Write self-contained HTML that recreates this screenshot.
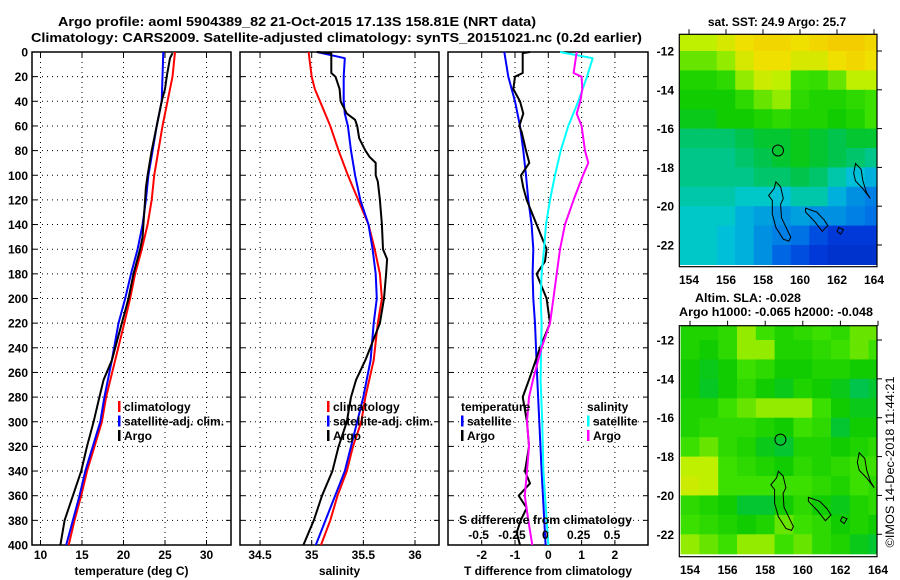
<!DOCTYPE html>
<html><head><meta charset="utf-8"><style>
html,body{margin:0;padding:0;background:#fff;}
svg{display:block;font-family:"Liberation Sans",sans-serif;font-weight:bold;}
</style></head><body>
<svg id="c" width="900" height="580" viewBox="0 0 900 580"></svg>
<script>
// ---------- data ----------
const tDepth=[0,20,40,60,80,100,120,140,160,180,200,220,250,280,300,320,340,360,380,400];
const tClim=[26.2,25.9,25.3,24.7,24.2,23.7,23.4,22.9,22.2,21.4,20.8,20.1,19.0,17.9,17.4,16.5,15.6,14.9,14.1,13.4];
const tSat=[24.8,24.7,24.6,24.0,23.5,23.0,22.7,22.3,21.7,20.9,20.2,19.4,18.6,17.7,17.2,16.3,15.4,14.7,13.9,13.1];
const tArgoDepth=[1,5,20,30,40,60,80,100,110,120,140,150,160,180,200,220,250,266,280,300,320,340,360,380,400];
const tArgo=[25.9,25.6,25.2,25.0,24.6,24.0,23.4,22.9,22.7,22.6,22.4,22.3,22.0,21.2,20.6,19.8,18.6,17.6,17.1,16.4,15.6,14.9,13.9,12.9,12.4];
const sDepth=[0,20,30,40,60,80,100,120,140,160,180,200,220,250,280,300,320,340,360,380,400];
const sClim=[34.97,35.0,35.03,35.08,35.18,35.26,35.35,35.45,35.55,35.61,35.66,35.68,35.64,35.60,35.52,35.48,35.40,35.34,35.25,35.18,35.09];
const sSatDepth=[0,5,20,40,50,60,80,100,120,140,160,180,200,220,250,280,300,340,400];
const sSat=[35.05,35.32,35.31,35.31,35.32,35.35,35.38,35.42,35.47,35.55,35.59,35.62,35.63,35.60,35.57,35.50,35.44,35.32,35.04];
const sArgoDepth=[0,1,17,20,30,40,50,55,60,70,80,85,90,100,105,120,140,160,168,180,200,220,250,266,280,300,320,340,360,380,400];
const sArgo=[35.05,35.19,35.19,35.23,35.27,35.28,35.34,35.42,35.44,35.46,35.52,35.56,35.62,35.62,35.64,35.66,35.68,35.69,35.73,35.72,35.70,35.66,35.52,35.43,35.38,35.34,35.26,35.20,35.10,35.02,34.92];
const dTSatDepth=[0,20,40,60,80,100,120,140,160,180,200,220,266,300,340,400];
const dTSat=[-1.32,-1.2,-1.0,-0.85,-0.75,-0.67,-0.6,-0.5,-0.45,-0.47,-0.45,-0.4,-0.33,-0.27,-0.2,-0.08];
const dTArgoDepth=[0,1,17,20,30,40,50,60,65,80,90,100,110,120,140,160,170,180,190,200,220,240,266,280,300,320,340,350,360,370,380,390,400];
const dTArgo=[-0.55,-0.77,-0.77,-1.0,-1.05,-0.85,-0.75,-0.87,-0.8,-0.67,-0.57,-0.82,-0.75,-0.65,-0.35,-0.05,-0.1,-0.35,-0.2,-0.05,0.05,-0.25,-0.58,-0.77,-0.64,-0.58,-0.7,-0.55,-0.89,-0.65,-0.83,-0.95,-0.85];
const dSSatDepth=[0,5,20,40,60,80,100,120,140,160,180,200,220,266,300,340,400];
const dSSat=[0.088,0.333,0.29,0.225,0.15,0.093,0.05,0.013,-0.017,-0.032,-0.05,-0.057,-0.05,-0.058,-0.046,-0.037,0.0];
const dSArgoDepth=[0,17,20,30,40,50,60,80,90,100,120,140,160,180,200,220,240,266,280,300,320,340,360,380,400];
const dSArgo=[0.213,0.19,0.25,0.255,0.24,0.213,0.25,0.275,0.3,0.26,0.19,0.125,0.088,0.063,0.038,0.013,-0.05,-0.115,-0.145,-0.16,-0.145,-0.16,-0.176,-0.15,-0.12];
const depthTicks=[0,20,40,60,80,100,120,140,160,180,200,220,240,260,280,300,320,340,360,380,400];
const tTicks=[10,15,20,25,30];
const sTicks=[34.5,35,35.5,36];
const dTTicks=[-2,-1,0,1,2];
const dSTicks=[-0.5,-0.25,0,0.25,0.5];
const dSTickLabels=["-0.5","-0.25","0","0.25","0.5"];
const lonTicks=[154,156,158,160,162,164];
const latTicks=[-12,-14,-16,-18,-20,-22];
const sstGrid=[
[.62,.62,.66,.7,.72,.72,.7,.72,.74,.74,.72],
[.58,.58,.6,.66,.7,.7,.66,.66,.7,.72,.7],
[.52,.52,.54,.6,.64,.62,.56,.55,.58,.62,.62],
[.5,.5,.5,.54,.58,.6,.54,.52,.52,.54,.56],
[.48,.48,.5,.5,.52,.54,.52,.52,.5,.52,.56],
[.42,.42,.42,.44,.46,.46,.48,.46,.44,.46,.46],
[.4,.4,.4,.42,.44,.46,.48,.46,.44,.42,.4],
[.4,.4,.4,.4,.42,.42,.44,.42,.38,.34,.32],
[.38,.38,.38,.36,.36,.34,.38,.38,.32,.28,.26],
[.36,.36,.36,.32,.3,.28,.3,.28,.28,.26,.24],
[.36,.36,.34,.32,.28,.26,.24,.18,.14,.14,.14],
[.36,.36,.34,.32,.28,.22,.18,.14,.12,.12,.12]];
const slaGrid=[
[.52,.52,.54,.6,.56,.52,.54,.56,.54,.58,.58],
[.52,.5,.54,.6,.6,.52,.52,.54,.56,.58,.56],
[.5,.48,.5,.56,.54,.5,.5,.52,.52,.5,.5],
[.5,.47,.5,.54,.5,.48,.52,.5,.48,.44,.46],
[.52,.52,.56,.58,.6,.6,.6,.56,.5,.48,.48],
[.52,.54,.54,.54,.52,.5,.56,.54,.46,.5,.5],
[.56,.58,.54,.52,.48,.46,.52,.52,.5,.52,.54],
[.62,.62,.56,.54,.52,.5,.54,.52,.54,.56,.56],
[.64,.62,.56,.56,.56,.56,.56,.54,.52,.56,.54],
[.54,.52,.5,.46,.46,.5,.54,.5,.48,.52,.54],
[.56,.54,.52,.5,.52,.58,.56,.54,.5,.52,.5],
[.6,.58,.56,.6,.6,.56,.58,.54,.52,.48,.46]];
const islandA=[[158.7,-18.75],[158.95,-19.0],[159.1,-19.6],[158.95,-19.9],[159.0,-20.6],[159.3,-21.2],[159.5,-21.6],[159.4,-21.8],[159.1,-21.7],[158.7,-21.1],[158.5,-20.4],[158.5,-19.7],[158.3,-19.45],[158.6,-19.1]];
const islandB=[[163.0,-17.8],[163.3,-18.1],[163.4,-18.7],[163.6,-19.3],[163.8,-19.6],[163.4,-19.1],[163.0,-18.7],[162.9,-18.3]];
const islandC=[[160.3,-20.1],[160.9,-20.3],[161.3,-20.7],[161.5,-21.0],[161.2,-21.3],[160.8,-20.8],[160.3,-20.3]];
const islandD=[[162.1,-21.1],[162.35,-21.2],[162.2,-21.45],[162.0,-21.3]];
const argoPos=[158.81,-17.13];

// ---------- helpers ----------
const NS="http://www.w3.org/2000/svg";
const svg=document.getElementById('c');
function mk(tag,attrs,parent){const e=document.createElementNS(NS,tag);for(const k in attrs)e.setAttribute(k,attrs[k]);(parent||svg).appendChild(e);return e;}
function txt(s,x,y,anchor,size,parent,extra){const e=mk('text',Object.assign({x:x,y:y,'text-anchor':anchor||'start','font-size':size||12,fill:'#000'},extra||{}),parent);e.textContent=s;return e;}
const Y0=52,Y1=545;
const yD=d=>Y0+(d/400)*(Y1-Y0);

function panel(name,x0,x1,xs,ticks,labels,xlabel){
  const g=mk('g',{});
  
  
  depthTicks.forEach(d=>{ if(d>0&&d<400){const l=mk('line',{x1:x0,x2:x1,y1:yD(d),y2:yD(d),stroke:'#000','stroke-width':1,'stroke-dasharray':'1,4'},g);
    }
    mk('line',{x1:x0,x2:x0+5,y1:yD(d),y2:yD(d),stroke:'#000'},g);mk('line',{x1:x1-5,x2:x1,y1:yD(d),y2:yD(d),stroke:'#000'},g);});
  ticks.forEach((t,i)=>{const x=xs(t);
    const l=mk('line',{x1:x,x2:x,y1:Y0,y2:Y1,stroke:'#000','stroke-width':1,'stroke-dasharray':'1,4'},g);
    
    mk('line',{x1:x,x2:x,y1:Y0,y2:Y0+5,stroke:'#000'},g);mk('line',{x1:x,x2:x,y1:Y1-5,y2:Y1,stroke:'#000'},g);
    const tl=txt(labels[i],x,559,'middle',12,g);});
  const fr=mk('rect',{x:x0,y:Y0,width:x1-x0,height:Y1-Y0,fill:'none',stroke:'#000','stroke-width':1.5},g);
  
  const xl=txt(xlabel,(x0+x1)/2,575,'middle',12,g);
  return g;
}
function series(name,depths,vals,xs,color,g){
  const pts=depths.map((d,i)=>xs(vals[i]).toFixed(1)+','+yD(d).toFixed(1)).join(' ');
  const p=mk('polyline',{points:pts,fill:'none',stroke:color,'stroke-width':2,'stroke-linejoin':'round'},g);
  
}
function legend(items,x,y0,g){
  items.forEach((it,i)=>{const y=y0+i*14.5;
    if(it.c){mk('rect',{x:x,y:y-10,width:2.5,height:11,fill:it.c},g);}
    const t=txt(it.t,x+(it.c?6:0),y,'start',12,g);});
}

// ---------- titles ----------
let t1=txt('Argo profile: aoml 5904389_82 21-Oct-2015 17.13S 158.81E (NRT data)',58,26,'start',13,svg,{textLength:478,lengthAdjust:'spacingAndGlyphs'});

let t2=txt('Climatology: CARS2009. Satellite-adjusted climatology: synTS_20151021.nc (0.2d earlier)',31,42,'start',13,svg,{textLength:611,lengthAdjust:'spacingAndGlyphs'});

depthTicks.forEach(d=>{const t=txt(String(d),28,yD(d)+4.5,'end',12);});

// ---------- panel 1: temperature ----------
const xT=t=>40.5+(t-10)*8.3;
const g1=panel('temperature-panel',32,231,xT,tTicks,tTicks.map(String),'temperature (deg C)');
series('temp-climatology-line',tDepth,tClim,xT,'#f00',g1);
series('temp-satellite-line',tDepth,tSat,xT,'#00f',g1);
series('temp-argo-line',tArgoDepth,tArgo,xT,'#000',g1);
legend([{t:'climatology',c:'#f00'},{t:'satellite-adj. clim.',c:'#00f'},{t:'Argo',c:'#000'}],118,411,g1);

// ---------- panel 2: salinity ----------
const xS=s=>311.7+(s-35)*103.3;
const g2=panel('salinity-panel',240,439,xS,sTicks,sTicks.map(String),'salinity');
series('sal-climatology-line',sDepth,sClim,xS,'#f00',g2);
series('sal-satellite-line',sSatDepth,sSat,xS,'#00f',g2);
series('sal-argo-line',sArgoDepth,sArgo,xS,'#000',g2);
legend([{t:'climatology',c:'#f00'},{t:'satellite-adj. clim.',c:'#00f'},{t:'Argo',c:'#000'}],327,411,g2);

// ---------- panel 3: differences ----------
const xDT=d=>548.3+d*33.3;
const xDS=s=>548.3+s*133.3;
const g3=panel('difference-panel',448,648,xDT,dTTicks,dTTicks.map(String),'T difference from climatology');
series('temp-diff-satellite-line',dTSatDepth,dTSat,xDT,'#00f',g3);
series('temp-diff-argo-line',dTArgoDepth,dTArgo,xDT,'#000',g3);
series('sal-diff-satellite-line',dSSatDepth,dSSat,xDS,'#0ff',g3);
series('sal-diff-argo-line',dSArgoDepth,dSArgo,xDS,'#f0f',g3);
legend([{t:'temperature'},{t:'satellite',c:'#00f'},{t:'Argo',c:'#000'}],461,411,g3);
legend([{t:'salinity'},{t:'satellite',c:'#0ff'},{t:'Argo',c:'#f0f'}],587,411,g3);
let sdt=txt('S difference from climatology',459,524,'start',12,g3,{textLength:173,lengthAdjust:'spacingAndGlyphs'});

dSTicks.forEach((s,i)=>{const t=txt(dSTickLabels[i],xDS(s)-3,539,'middle',12,g3);});

// ---------- maps ----------
const stops=[[0,[0,16,144]],[0.15,[0,60,220]],[0.25,[0,120,230]],[0.35,[0,200,216]],[0.45,[0,196,60]],[0.5,[16,204,0]],[0.56,[60,224,0]],[0.62,[190,240,0]],[0.7,[240,224,0]],[0.8,[248,176,0]],[1,[200,40,0]]];
function cmap(v){for(let i=1;i<stops.length;i++){if(v<=stops[i][0]){const a=stops[i-1],b=stops[i],f=(v-a[0])/(b[0]-a[0]);return 'rgb('+a[1].map((c,k)=>Math.round(c+(b[1][k]-c)*f)).join(',')+')';}}return 'rgb(200,40,0)';}
function map(name,grid,top,bot,lon154,lon164,lat12,lat22,cap,labelY){
  const L=679.3,R=877;
  const xL=lon=>lon154+(lon-154)*(lon164-lon154)/10;
  const yL=lat=>lat12+(-12-lat)*(lat22-lat12)/10;
  const g=mk('g',{});
  
  
  const cid='clip-'+name;
  const cp=mk('clipPath',{id:cid},g);mk('rect',{x:L,y:top,width:R-L,height:bot-top},cp);
  const cg=mk('g',{'clip-path':'url(#'+cid+')'},g);
  grid.forEach((row,r)=>row.forEach((v,c)=>{
    const lonA=153.5+c,latA=-11-r;
    const x=xL(lonA),y=yL(latA);
    const cell=mk('rect',{x:x.toFixed(2),y:y.toFixed(2),width:(xL(lonA+1)-x+0.6).toFixed(2),height:(yL(latA-1)-y+0.6).toFixed(2),fill:cmap(v)},cg);
    
    
  }));
  [islandA,islandB,islandC,islandD].forEach(isl=>{
    const p=mk('polygon',{points:isl.map(q=>xL(q[0]).toFixed(1)+','+yL(q[1]).toFixed(1)).join(' '),fill:'none',stroke:'#000','stroke-width':1},cg);
    });
  const ci=mk('circle',{cx:xL(argoPos[0]),cy:yL(argoPos[1]),r:5.5,fill:'none',stroke:'#000','stroke-width':1},cg);
  
  mk('rect',{x:L,y:top,width:R-L,height:bot-top,fill:'none',stroke:'#000','stroke-width':1.2},g);
  lonTicks.forEach(lo=>{const x=xL(lo);mk('line',{x1:x,x2:x,y1:top-5,y2:top,stroke:'#000'},g);
    const t=txt(String(lo),x,labelY,'middle',12,g);});
  latTicks.forEach(la=>{const y=yL(la);mk('line',{x1:R,x2:R+5,y1:y,y2:y,stroke:'#000'},g);
    const t=txt(String(la),674,y+4.5,'end',12,g);});
  return g;
}
map('sst-map',sstGrid,34.3,266.7,689,874,51,245,'',284);
map('sla-map',slaGrid,325.7,556.7,690,878,340,534.3,'',574);
let c1=txt('sat. SST: 24.9 Argo: 25.7',777,26,'middle',12);
let c2=txt('Altim. SLA: -0.028',695,302,'start',12,svg,{textLength:106,lengthAdjust:'spacingAndGlyphs'});
let c3=txt('Argo h1000: -0.065 h2000: -0.048',679,316,'start',12,svg,{textLength:194,lengthAdjust:'spacingAndGlyphs'});
let c4=txt('©IMOS 14-Dec-2018 11:44:21',894,462,'middle',12,svg,{transform:'rotate(-90 894 462)',textLength:171,lengthAdjust:'spacingAndGlyphs','font-weight':'normal'});

</script>
</body></html>
